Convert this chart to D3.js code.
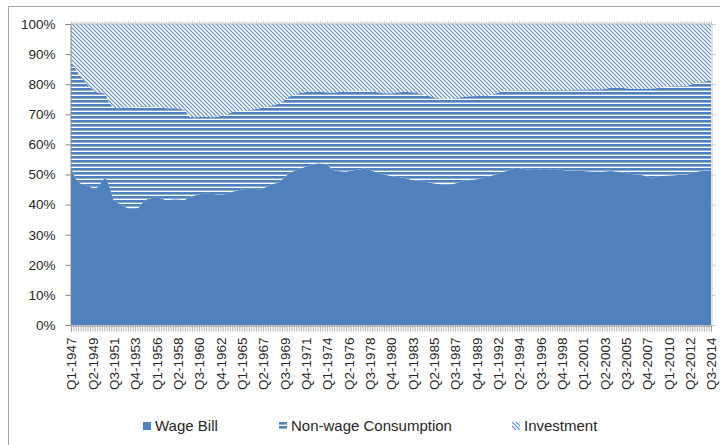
<!DOCTYPE html>
<html>
<head>
<meta charset="utf-8">
<script src="https://cdn.jsdelivr.net/npm/d3@7"></script>
<style>
  body { margin: 0; background: #fff; }
  svg { display: block; font-family: "Liberation Sans", Arial, sans-serif; }
</style>
</head>
<body>
<div id="chart"></div>
<script>
var sampleQuarters = ["Q1-1947","Q3-1947","Q1-1948","Q1-1949","Q3-1949","Q1-1950","Q3-1950","Q4-1950","Q1-1951","Q3-1951",
  "Q1-1952","Q1-1953","Q1-1954","Q3-1954","Q1-1955","Q1-1956","Q1-1957","Q1-1958","Q1-1959","Q3-1959",
  "Q1-1960","Q1-1961","Q1-1962","Q1-1963","Q1-1964","Q1-1965","Q1-1966","Q1-1967","Q1-1968","Q1-1969",
  "Q1-1970","Q1-1971","Q1-1972","Q1-1973","Q1-1974","Q3-1974","Q1-1975","Q1-1976","Q1-1977","Q1-1978",
  "Q1-1979","Q1-1980","Q1-1981","Q1-1982","Q1-1983","Q1-1984","Q1-1985","Q1-1986","Q1-1987","Q1-1988",
  "Q1-1989","Q1-1990","Q1-1991","Q1-1992","Q1-1993","Q1-1994","Q1-1995","Q1-1996","Q1-1997","Q1-1998",
  "Q1-1999","Q1-2000","Q1-2001","Q1-2002","Q1-2003","Q1-2004","Q1-2005","Q1-2006","Q1-2007","Q1-2008",
  "Q2-2008","Q1-2009","Q1-2010","Q1-2011","Q1-2012","Q1-2013","Q1-2014","Q3-2014"];

var wageBill = [52.5,48.5,47,46,45,46.5,48.8,48.5,46.5,41.5,
  40.5,38.8,38.5,40.5,41.8,42.5,41.5,41.8,41.5,42.5,
  43,43.7,43.5,43.2,44.3,45,45.3,45,46.5,47.5,
  50.5,51.8,52.8,53.7,53.5,51.7,51.2,51,51.5,52,
  51,50,49.3,49,48.2,47.8,47.2,46.8,46.6,47.5,
  48.2,48.5,49.3,50.2,51.3,52.3,51.7,51.8,51.5,51.8,
  51.4,51.2,51.2,51,51,51.2,50.8,50.2,50,49.2,
  48.7,49.5,49.7,49.8,50,51,51.3,51.2];

var nonWage = [35,36.5,35.5,33,32.5,30.7,28.2,27.5,27.5,30.7,
  31.5,33.5,34,32.3,31,30,30.5,30.2,30,26.7,
  26,25.5,25.5,26.3,26.5,26.2,26.2,27,26.3,26,
  25.3,25.2,24.7,23.8,23.8,25.5,26.1,26.5,26.3,25.8,
  26.5,27,27.7,28.5,29.1,29,28.6,28.4,28.6,28.1,
  27.8,27.6,26.9,27,26.7,25.7,26.3,26.2,26.6,26.3,
  26.7,27,27,27.3,27.3,27.6,28,28.3,28.5,29.4,
  29.9,29.2,29.6,29.7,29.5,29.5,29.7,30.1];

var investment = [12.5,15,17.5,21,22.5,22.8,23,24,26,27.8,
  28,27.7,27.5,27.2,27.2,27.5,28,28,28.5,30.8,
  31,30.8,31,30.5,29.2,28.8,28.5,28,27.2,26.5,
  24.2,23,22.5,22.5,22.7,22.8,22.7,22.5,22.2,22.2,
  22.5,23,23,22.5,22.7,23.2,24.2,24.8,24.8,24.4,
  24,23.9,23.8,22.8,22,22,22,22,21.9,21.9,
  21.9,21.8,21.8,21.7,21.7,21.2,21.2,21.5,21.5,21.4,
  21.4,21.3,20.7,20.5,20.5,19.5,19,18.7];

var seriesNames = ["Wage Bill", "Non-wage Consumption", "Investment"];
var yTicks = [0, 0.1, 0.2, 0.3, 0.4, 0.5, 0.6, 0.7, 0.8, 0.9, 1];

// every quarter on the category axis, Q1-1947 .. Q3-2014
var allQuarters = [];
for (var yr = 1947; yr <= 2014; yr++) {
  for (var q = 1; q <= 4; q++) {
    if (yr === 2014 && q > 3) break;
    allQuarters.push("Q" + q + "-" + yr);
  }
}
var labelEvery = 9;

var width = 720, height = 445;
var margin = {left: 71, right: 9, top: 24, bottom: 120};
var blue = "#4F81BD";
var textColor = "#262626";

var rows = sampleQuarters.map((d, i) => ({
  quarter: d,
  "Wage Bill": wageBill[i],
  "Non-wage Consumption": nonWage[i],
  "Investment": investment[i]
}));

var svg = d3.select("#chart").append("svg")
  .attr("width", width)
  .attr("height", height);

// patterns
var defs = svg.append("defs");
var hp = defs.append("pattern")
  .attr("id", "horiz")
  .attr("patternUnits", "userSpaceOnUse")
  .attr("width", 8).attr("height", 4);
hp.append("rect").attr("width", 8).attr("height", 4).attr("fill", "#fff");
hp.append("rect").attr("width", 8).attr("height", 2).attr("fill", blue);
hp.append("rect").attr("y", 2).attr("width", 8).attr("height", 1).attr("fill", "#8eadd4");

var dp = defs.append("pattern")
  .attr("id", "diag")
  .attr("patternUnits", "userSpaceOnUse")
  .attr("width", 4).attr("height", 4);
dp.append("rect").attr("width", 4).attr("height", 4).attr("fill", "#fff");
dp.append("path")
  .attr("d", "M0,0L4,4M-1,3L1,5M3,-1L5,1")
  .attr("stroke", blue)
  .attr("stroke-width", 1.2)
  .attr("stroke-opacity", 0.9);

var fills = ["url(#horiz)", "url(#diag)"];

// outer frame (runs off the right and bottom)
svg.append("rect")
  .attr("x", 8.5).attr("y", 6.5)
  .attr("width", 760).attr("height", 480)
  .attr("fill", "none")
  .attr("stroke", "#a6a6a6");

var x = d3.scalePoint()
  .domain(allQuarters)
  .range([margin.left, width - margin.right]);

var y = d3.scaleLinear()
  .domain([0, 1])
  .range([height - margin.bottom, margin.top]);

var stack = d3.stack()
  .keys(seriesNames)
  .offset(d3.stackOffsetExpand);

var layers = stack(rows);

var area = d3.area()
  .x(d => x(d.data.quarter))
  .y0(d => y(d[0]))
  .y1(d => y(d[1]));

svg.append("g").selectAll("path")
  .data(layers)
  .enter()
  .append("path")
  .attr("d", area)
  .attr("fill", (d, i) => i === 0 ? blue : fills[i - 1]);

// y axis
var yAxis = svg.append("g")
  .attr("transform", "translate(" + (margin.left - 0.5) + ",0)")
  .call(d3.axisLeft(y).tickValues(yTicks).tickFormat(d3.format(".0%")).tickSize(5).tickPadding(10));
yAxis.select(".domain").attr("stroke", "#868686");
yAxis.selectAll(".tick line").attr("stroke", "#868686");
yAxis.selectAll("text").attr("font-size", 13.5).attr("fill", textColor);

// right side ticks
var rAxis = svg.append("g")
  .attr("transform", "translate(" + (width - margin.right + 0.5) + ",0)")
  .call(d3.axisRight(y).tickValues(yTicks).tickFormat("").tickSize(4));
rAxis.select(".domain").attr("stroke", "#c8c8c8");
rAxis.selectAll(".tick line").attr("stroke", "#c8c8c8");

// top line
var tAxis = svg.append("g")
  .attr("transform", "translate(0," + (margin.top - 0.5) + ")")
  .call(d3.axisTop(x).tickFormat("").tickSize(2));
tAxis.select(".domain").attr("stroke", "#b0b0b0");
tAxis.selectAll(".tick line").attr("stroke", "#c8c8c8");

// x axis: a tick for each quarter, a label every 9th
var xAxis = svg.append("g")
  .attr("transform", "translate(0," + (height - margin.bottom + 0.5) + ")")
  .call(d3.axisBottom(x).tickSize(6)
    .tickFormat((d, i) => i % labelEvery === 0 ? d : ""));
xAxis.select(".domain").attr("stroke", "#868686");
xAxis.selectAll(".tick line").attr("stroke", "#a0a0a0").attr("stroke-width", 0.8);
xAxis.selectAll("text")
  .attr("font-size", 13.5)
  .attr("fill", textColor)
  .attr("transform", "rotate(-90)")
  .attr("text-anchor", "end")
  .attr("x", -12)
  .attr("y", 0)
  .attr("dy", "0.35em");

// legend
var legendX = [143, 279, 512];
var legend = svg.append("g").selectAll("g")
  .data(seriesNames)
  .enter()
  .append("g")
  .attr("transform", (d, i) => "translate(" + legendX[i] + ",422)");

legend.append("rect")
  .attr("width", 8).attr("height", 8)
  .attr("fill", (d, i) => i === 0 ? blue : fills[i - 1]);

legend.append("text")
  .attr("x", 12).attr("y", 4)
  .attr("dy", "0.35em")
  .attr("font-size", 15)
  .attr("fill", textColor)
  .text(d => d);
</script>
</body>
</html>
